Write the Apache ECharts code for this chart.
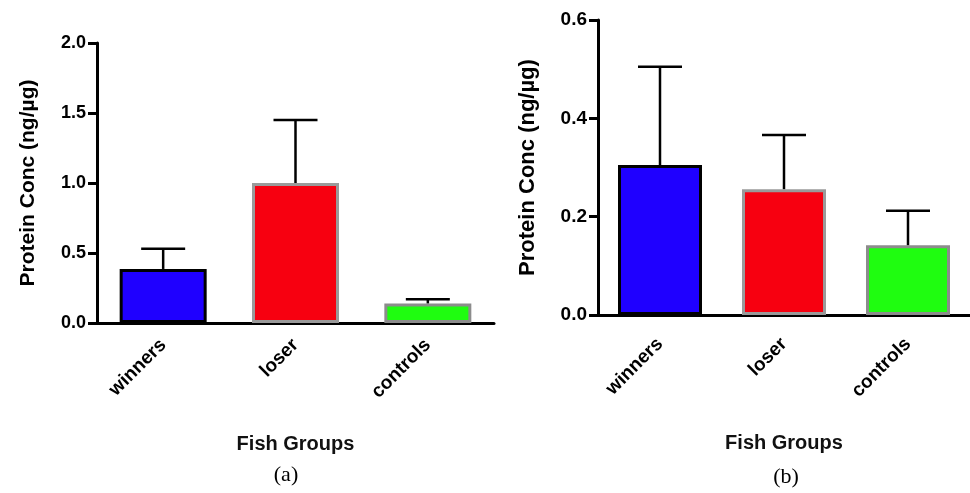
<!DOCTYPE html>
<html>
<head>
<meta charset="utf-8">
<script src="https://cdn.jsdelivr.net/npm/echarts@6/dist/echarts.min.js"></script>
<style>html,body{margin:0;padding:0;background:#fff}#c{width:970px;height:493px}</style>
</head>
<body>
<div id="c"></div>
<script>
var categories = ['winners', 'loser', 'controls'];
var meansA = [0.386, 1.0, 0.14];
var errA = [0.145, 0.45, 0.03];
var meansB = [0.305, 0.256, 0.142];
var errB = [0.2, 0.11, 0.07];
var yTicksA = [0, 0.5, 1.0, 1.5, 2.0];
var yTicksB = [0, 0.2, 0.4, 0.6];
var fillColors = ['#1f00ff', '#f70010', '#1ffd10'];
var borderColors = ['#000000', '#9a9a9a', '#8c8c8c'];

var chart = echarts.init(document.getElementById('c'));
var font = 'Liberation Sans, Arial, sans-serif';

function barData(vals) {
  return vals.map(function (v, i) {
    return { value: v, itemStyle: { color: fillColors[i], borderColor: borderColors[i], borderWidth: 3 } };
  });
}
function errData(m, e) {
  return m.map(function (v, i) { return [i, v, v + e[i]]; });
}
function errRender(params, api) {
  var x = api.value(0);
  var lo = api.coord([x, api.value(1)]);
  var hi = api.coord([x, api.value(2)]);
  var hw = 22;
  var st = { stroke: '#000', lineWidth: 2.5 };
  return {
    type: 'group',
    children: [
      { type: 'line', shape: { x1: lo[0], y1: lo[1], x2: hi[0], y2: hi[1] }, style: st },
      { type: 'line', shape: { x1: hi[0] - hw, y1: hi[1], x2: hi[0] + hw, y2: hi[1] }, style: st }
    ]
  };
}
function xAxis(gi, margin, gap) {
  return {
    type: 'category', gridIndex: gi, data: categories,
    axisLine: { lineStyle: { color: '#000', width: 3 } },
    axisTick: { alignWithLabel: true, length: 10, lineStyle: { color: '#000', width: 3 } },
    axisLabel: { rotate: 45, color: '#000', fontFamily: font, fontWeight: 'bold', fontSize: 19, margin: margin },
    name: 'Fish Groups', nameLocation: 'middle', nameGap: gap,
    nameTextStyle: { color: '#111', fontFamily: font, fontWeight: 'bold', fontSize: 20 }
  };
}
function yAxis(gi, ticks, gap, lblSize, nameSize) {
  return {
    type: 'value', gridIndex: gi, min: ticks[0], max: ticks[ticks.length - 1],
    interval: ticks[1] - ticks[0],
    axisLine: { show: true, lineStyle: { color: '#000', width: 3 } },
    axisTick: { show: true, length: 9, lineStyle: { color: '#000', width: 3 } },
    splitLine: { show: false },
    axisLabel: { color: '#000', fontFamily: font, fontWeight: 'bold', fontSize: lblSize, margin: 11,
      formatter: function (v) { return v.toFixed(1); } },
    name: 'Protein Conc (ng/\u00b5g)', nameLocation: 'middle', nameRotate: 90, nameGap: gap,
    nameTextStyle: { color: '#000', fontFamily: font, fontWeight: 'bold', fontSize: nameSize }
  };
}

chart.setOption({
  backgroundColor: '#fff',
  animation: false,
  grid: [
    { left: 97, top: 43, width: 397, height: 280 },
    { left: 598, top: 20, width: 380, height: 295 }
  ],
  xAxis: [xAxis(0, 19, 111), xAxis(1, 26, 118)],
  yAxis: [yAxis(0, yTicksA, 58, 18, 21), yAxis(1, yTicksB, 59, 19, 22)],
  series: [
    { type: 'bar', xAxisIndex: 0, yAxisIndex: 0, data: barData(meansA), barWidth: 87, z: 2 },
    { type: 'custom', xAxisIndex: 0, yAxisIndex: 0, data: errData(meansA, errA), renderItem: errRender, z: 3 },
    { type: 'bar', xAxisIndex: 1, yAxisIndex: 1, data: barData(meansB), barWidth: 84, z: 2 },
    { type: 'custom', xAxisIndex: 1, yAxisIndex: 1, data: errData(meansB, errB), renderItem: errRender, z: 3 }
  ],
  graphic: [
    { type: 'text', x: 286, y: 475, style: { text: '(a)', font: '22px "Liberation Serif", serif', fill: '#000', textAlign: 'center', textVerticalAlign: 'middle' } },
    { type: 'text', x: 786, y: 477, style: { text: '(b)', font: '22px "Liberation Serif", serif', fill: '#000', textAlign: 'center', textVerticalAlign: 'middle' } }
  ]
});
</script>
</body>
</html>
